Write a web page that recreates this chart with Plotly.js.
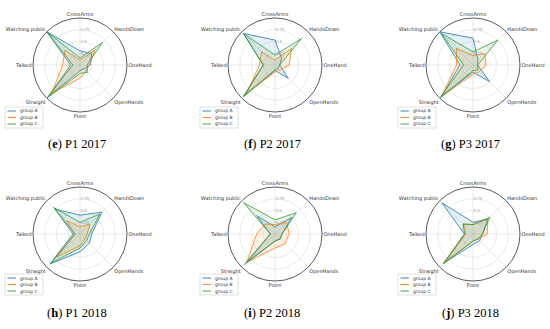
<!DOCTYPE html>
<html>
<head>
<meta charset="utf-8">
<script src="https://cdn.plot.ly/plotly-3.0.1.min.js"></script>
<style>html,body{margin:0;padding:0;background:#fff;}#chart{width:550px;height:329px;}</style>
</head>
<body>
<div id="chart"></div>
<script>
const categories = ['CrossArms','HandsDown','OneHand','OpenHands','Point','Straight','Talked','Watching public'];
const groupNames = ['group A','group B','group C'];
const panelLetters = ['e','f','g','h','i','j'];
const panelTitles = ['P1 2017','P2 2017','P3 2017','P1 2018','P2 2018','P3 2018'];
const radialTicks = [0.25, 0.5, 0.75];
const radialTickText = ['0.25','0.5','0.75'];

// values per panel (order of categories)
const e_A = [0.30, 0.35, 0.22, 0.12, 0.12, 0.95, 0.20, 1.00];
const e_B = [0.10, 0.45, 0.20, 0.18, 0.28, 0.85, 0.37, 0.45];
const e_C = [0.15, 0.68, 0.15, 0.22, 0.18, 1.00, 0.15, 1.00];

const f_A = [0.53, 0.20, 0.10, 0.40, 0.12, 0.95, 0.25, 0.95];
const f_B = [0.10, 0.50, 0.30, 0.15, 0.15, 0.85, 0.33, 0.40];
const f_C = [0.21, 0.80, 0.10, 0.10, 0.10, 0.95, 0.25, 0.95];

const g_A = [0.57, 0.15, 0.10, 0.50, 0.15, 0.95, 0.28, 1.00];
const g_B = [0.20, 0.35, 0.28, 0.20, 0.20, 0.95, 0.35, 0.50];
const g_C = [0.28, 0.75, 0.10, 0.15, 0.12, 1.00, 0.20, 0.95];

const h_A = [0.40, 0.66, 0.25, 0.28, 0.38, 0.90, 0.15, 0.75];
const h_B = [0.15, 0.30, 0.15, 0.15, 0.25, 0.70, 0.12, 0.40];
const h_C = [0.25, 0.60, 0.20, 0.20, 0.30, 0.88, 0.10, 0.80];

const i_A = [0.15, 0.50, 0.15, 0.15, 0.15, 0.85, 0.10, 0.55];
const i_B = [0.20, 0.35, 0.30, 0.30, 0.30, 0.85, 0.39, 0.30];
const i_C = [0.30, 0.64, 0.15, 0.15, 0.15, 0.92, 0.10, 0.94];

const j_A = [0.25, 0.45, 0.20, 0.20, 0.22, 0.88, 0.18, 0.94];
const j_B = [0.20, 0.45, 0.30, 0.15, 0.15, 0.85, 0.15, 0.30];
const j_C = [0.20, 0.50, 0.20, 0.15, 0.15, 0.90, 0.18, 0.30];

const panels = [[e_A,e_B,e_C],[f_A,f_B,f_C],[g_A,g_B,g_C],[h_A,h_B,h_C],[i_A,i_B,i_C],[j_A,j_B,j_C]];

const lineColors = ['#1f77b4','#ff7f0e','#2ca02c'];
const fillColors = ['rgba(31,119,180,0.11)','rgba(255,127,14,0.11)','rgba(44,160,44,0.09)'];

const W = 550, H = 329, R = 47;
const centersX = [80, 275, 473];
const centersY = [65, 234];
const captionY = [144, 313];

const data = [];
const layout = {
  width: W, height: H,
  margin: {l:0, r:0, t:0, b:0},
  paper_bgcolor: '#fff',
  showlegend: false,
  shapes: [],
  annotations: []
};
const px = x => x / W;
const py = y => 1 - y / H;

panels.forEach((series, p) => {
  const col = p % 3, row = Math.floor(p / 3);
  const cx = centersX[col], cy = centersY[row];
  const key = p === 0 ? 'polar' : 'polar' + (p + 1);
  layout[key] = {
    domain: {x: [px(cx - R), px(cx + R)], y: [py(cy + R), py(cy - R)]},
    bgcolor: 'rgba(0,0,0,0)',
    radialaxis: {
      range: [0, 1], tickvals: radialTicks, ticktext: radialTickText,
      angle: 90, tickangle: 90, side: 'clockwise',
      showline: false, ticks: '', gridcolor: '#dcdcdc', gridwidth: 0.6,
      tickfont: {family: 'DejaVu Sans', size: 4, color: '#aaa'}
    },
    angularaxis: {
      rotation: 90, direction: 'clockwise',
      showline: true, linecolor: '#333', linewidth: 0.8,
      gridcolor: '#dcdcdc', gridwidth: 0.6, ticks: '',
      tickfont: {family: 'DejaVu Sans', size: 5, color: '#333'}
    }
  };
  series.forEach((vals, g) => {
    data.push({
      type: 'scatterpolar', subplot: key,
      r: vals.concat([vals[0]]), theta: categories.concat([categories[0]]),
      mode: 'lines', fill: 'toself', fillcolor: fillColors[g],
      line: {color: lineColors[g], width: 0.8},
      name: groupNames[g], hoverinfo: 'skip'
    });
  });
  // legend box
  const lx = cx - 75, ly = cy + (row === 0 ? 42 : 40);
  const lw = 38, lh = 21;
  layout.shapes.push({type:'rect', xref:'paper', yref:'paper',
    x0: px(lx), x1: px(lx + lw), y0: py(ly + lh), y1: py(ly),
    line: {color:'#ccc', width:0.6}, fillcolor:'rgba(255,255,255,0.8)'});
  groupNames.forEach((nm, g) => {
    const yy = ly + 4 + g * 6.5;
    layout.shapes.push({type:'line', xref:'paper', yref:'paper',
      x0: px(lx + 2.5), x1: px(lx + 11), y0: py(yy), y1: py(yy),
      line: {color: lineColors[g], width: 0.9}});
    layout.annotations.push({xref:'paper', yref:'paper', x: px(lx + 13), y: py(yy),
      xanchor:'left', yanchor:'middle', showarrow:false, text: nm,
      font:{family:'DejaVu Sans', size:4.5, color:'#333'}});
  });
  layout.annotations.push({xref:'paper', yref:'paper', x: px(cx - 3), y: py(captionY[row]),
    xanchor:'center', yanchor:'middle', showarrow:false,
    text: '(<b>' + panelLetters[p] + '</b>) ' + panelTitles[p],
    font:{family:'Liberation Serif', size:12.5, color:'#000'}});
});

Plotly.newPlot('chart', data, layout, {displayModeBar:false, staticPlot:true});
</script>
</body>
</html>
